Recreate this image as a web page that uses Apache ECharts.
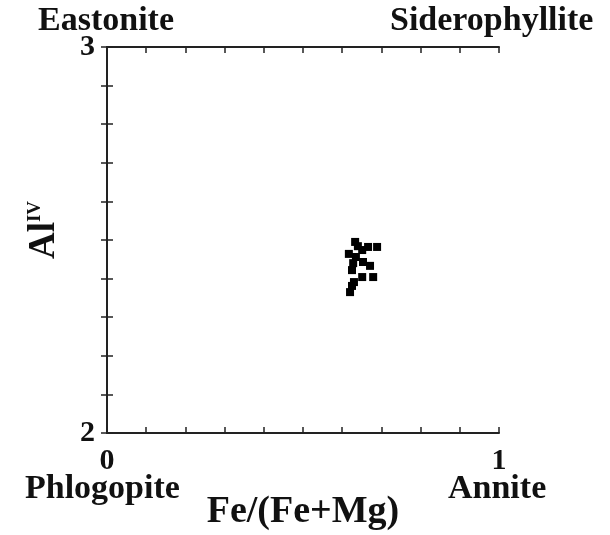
<!DOCTYPE html>
<html>
<head>
<meta charset="utf-8">
<script src="https://cdn.jsdelivr.net/npm/echarts@6/dist/echarts.min.js"></script>
<style>
  html, body { margin: 0; padding: 0; background: #fff; }
  #main { width: 610px; height: 535px; }
</style>
</head>
<body>
<div id="main"></div>
<script>
// Fe/(Fe+Mg) against Al(IV) for the biotites
var feRatio = [0.633, 0.640, 0.651, 0.666, 0.689, 0.617, 0.635, 0.628, 0.653, 0.671, 0.625, 0.651, 0.679, 0.630, 0.625, 0.620];
var alIV    = [2.495, 2.484, 2.474, 2.482, 2.482, 2.464, 2.456, 2.440, 2.443, 2.433, 2.422, 2.404, 2.404, 2.391, 2.381, 2.365];
var xTicks = ['0', '1'];
var yTicks = ['2', '3'];
var endMembers = ['Eastonite', 'Siderophyllite', 'Phlogopite', 'Annite'];

var points = feRatio.map(function (v, i) { return [v, alIV[i]]; });

var myChart = echarts.init(document.getElementById('main'));
var serif = '"Liberation Serif", "DejaVu Serif", serif';
var lineCol = '#222';

function endLabel(v, lo, hi, labels) {
    if (Math.abs(v - lo) < 1e-6) return labels[0];
    if (Math.abs(v - hi) < 1e-6) return labels[1];
    return '';
}

var tickStyle = { show: true, inside: true, length: 6, lineStyle: { color: lineCol, width: 1.5 } };

option = {
    backgroundColor: '#fff',
    animation: false,
    grid: { left: 107, right: 111, top: 47, bottom: 102, containLabel: false, outerBoundsMode: 'none' },
    xAxis: [
        {
            type: 'value', min: 0, max: 1, interval: 0.1,
            axisLine: { lineStyle: { color: lineCol, width: 2 } },
            axisTick: tickStyle,
            splitLine: { show: false },
            axisLabel: {
                margin: 13, color: '#111', fontFamily: serif, fontWeight: 'bold', fontSize: 30,
                formatter: function (v) { return endLabel(v, 0, 1, xTicks); }
            },
            name: 'Fe/(Fe+Mg)', nameLocation: 'middle', nameGap: 60,
            nameTextStyle: { color: '#111', fontFamily: serif, fontWeight: 'bold', fontSize: 38 }
        },
        {
            type: 'value', position: 'top', min: 0, max: 1, interval: 0.1,
            axisLine: { lineStyle: { color: lineCol, width: 2 } },
            axisTick: tickStyle, axisLabel: { show: false }, splitLine: { show: false }
        }
    ],
    yAxis: [
        {
            type: 'value', min: 2, max: 3, interval: 0.1,
            axisLine: { lineStyle: { color: lineCol, width: 2 } },
            axisTick: tickStyle,
            splitLine: { show: false },
            axisLabel: {
                margin: 12, color: '#111', fontFamily: serif, fontWeight: 'bold', fontSize: 30,
                formatter: function (v) { return endLabel(v, 2, 3, yTicks); }
            },
            name: '{a|Al}{s|IV}', nameLocation: 'middle', nameGap: 44, nameRotate: 90,
            nameTextStyle: {
                padding: [0, 0, 0, 20],
                rich: {
                    a: { fontFamily: serif, fontWeight: 'bold', fontSize: 37, color: '#111' },
                    s: { fontFamily: serif, fontWeight: 'bold', fontSize: 19, color: '#111', verticalAlign: 'top', padding: [0, 0, 16, 0] }
                }
            }
        },
        {
            type: 'value', position: 'right', min: 2, max: 3, interval: 0.1,
            axisLine: { lineStyle: { color: lineCol, width: 2 } },
            axisTick: tickStyle, axisLabel: { show: false }, splitLine: { show: false }
        }
    ],
    graphic: [
        { type: 'text', left: 38, top: 4, style: { text: endMembers[0], font: 'bold 34px ' + serif, fill: '#111' } },
        { type: 'text', left: 390, top: 4, style: { text: endMembers[1], font: 'bold 34px ' + serif, fill: '#111' } },
        { type: 'text', left: 25, top: 472, style: { text: endMembers[2], font: 'bold 34px ' + serif, fill: '#111' } },
        { type: 'text', left: 448, top: 472, style: { text: endMembers[3], font: 'bold 34px ' + serif, fill: '#111' } }
    ],
    series: [
        {
            name: 'biotite',
            type: 'scatter',
            symbol: 'rect',
            symbolSize: 8,
            itemStyle: { color: '#000', opacity: 1 },
            data: points
        }
    ]
};

myChart.setOption(option);
window.onresize = myChart.resize;
</script>
</body>
</html>
